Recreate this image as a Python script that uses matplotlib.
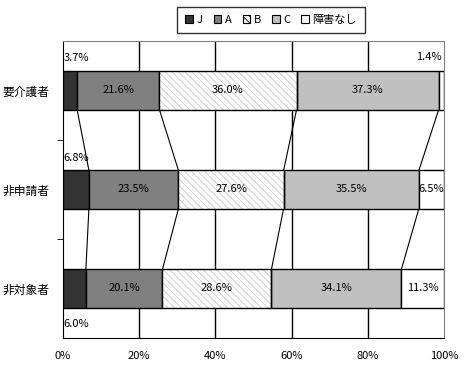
import matplotlib
matplotlib.use('Agg')
import matplotlib.pyplot as plt
from matplotlib.patches import Patch

plt.rcParams['font.family'] = ['Noto Sans CJK JP', 'DejaVu Sans']
plt.rcParams['hatch.linewidth'] = 0.6

groups = ['要介護者', '非申請者', '非対象者']
series = ['J', 'A', 'B', 'C', '障害なし']
vals = {
    'J': [3.7, 6.8, 6.0],
    'A': [21.6, 23.5, 20.1],
    'B': [36.0, 27.6, 28.6],
    'C': [37.3, 35.5, 34.1],
    '障害なし': [1.4, 6.5, 11.3],
}
xticks = [0, 20, 40, 60, 80, 100]
xlabels = ['0%', '20%', '40%', '60%', '80%', '100%']

colors = {'J': '#333333', 'A': '#808080', 'B': 'white', 'C': '#c0c0c0', '障害なし': 'white'}
hatch = '\\\\\\\\\\'

fig = plt.figure(figsize=(4.65, 3.66), dpi=100)
ax = fig.add_axes([0.1355, 0.0765, 0.8194, 0.8115])

h = 0.385
ypos = list(range(len(groups)))
left = [0.0] * len(groups)
bounds = []
for s in series:
    v = vals[s]
    if s == 'B':
        ax.barh(ypos, v, left=left, height=h, color='white', edgecolor='#c8c8c8',
                hatch=hatch, linewidth=0, zorder=3)
        ax.barh(ypos, v, left=left, height=h, color='none', edgecolor='black',
                linewidth=1, zorder=4)
    else:
        ax.barh(ypos, v, left=left, height=h, color=colors[s], edgecolor='black',
                linewidth=1, zorder=3)
    for i in ypos:
        lab = f'{v[i]:.1f}%'
        cx = left[i] + v[i] / 2
        if s == 'J':
            dy = [-0.33, -0.32, 0.36][i]
            ax.text(0.2, i + dy, lab, ha='left', va='center', fontsize=8, zorder=5)
        elif s == '障害なし' and i == 0:
            ax.text(99.5, i - 0.34, lab, ha='right', va='center', fontsize=8, zorder=5)
        else:
            ax.text(cx, i, lab, ha='center', va='center', fontsize=8, zorder=5)
    left = [left[i] + v[i] for i in ypos]
    bounds.append(list(left))

# connector lines between bars
for b in bounds[:-1]:
    for i in range(len(groups) - 1):
        ax.plot([b[i], b[i + 1]], [i + h / 2, i + 1 - h / 2], color='black',
                linewidth=0.8, zorder=2)

ax.set_xlim(0, 100)
ax.set_ylim(2.5, -0.5)
ax.set_xticks(xticks)
ax.set_xticklabels(xlabels, fontsize=8)
ax.tick_params(axis='x', length=0, pad=9)
ax.set_yticks(ypos)
ax.set_yticklabels(groups, fontsize=8.5)
ax.tick_params(axis='y', which='major', length=0, pad=10)
ax.set_yticks([0.5, 1.5], minor=True)
ax.tick_params(axis='y', which='minor', length=4, direction='out')
for x in xticks[1:-1]:
    ax.axvline(x, color='black', linewidth=1, zorder=1)

ax.spines['left'].set_color('black')
ax.spines['bottom'].set_color('black')
ax.spines['top'].set_color('#808080')
ax.spines['right'].set_color('#808080')

handles = [Patch(facecolor=colors[s], edgecolor='black',
                 linewidth=0.8, hatch=(hatch if s == 'B' else None)) for s in series]
leg = fig.legend(handles, series, loc='upper center', bbox_to_anchor=(0.583, 0.997),
                 ncol=5, fontsize=8, frameon=True, fancybox=False, edgecolor='black',
                 handlelength=0.7, handleheight=0.7, handletextpad=0.3, columnspacing=1.0,
                 borderpad=0.75)
leg.get_frame().set_linewidth(1)

fig.savefig('out.png', dpi=100)
